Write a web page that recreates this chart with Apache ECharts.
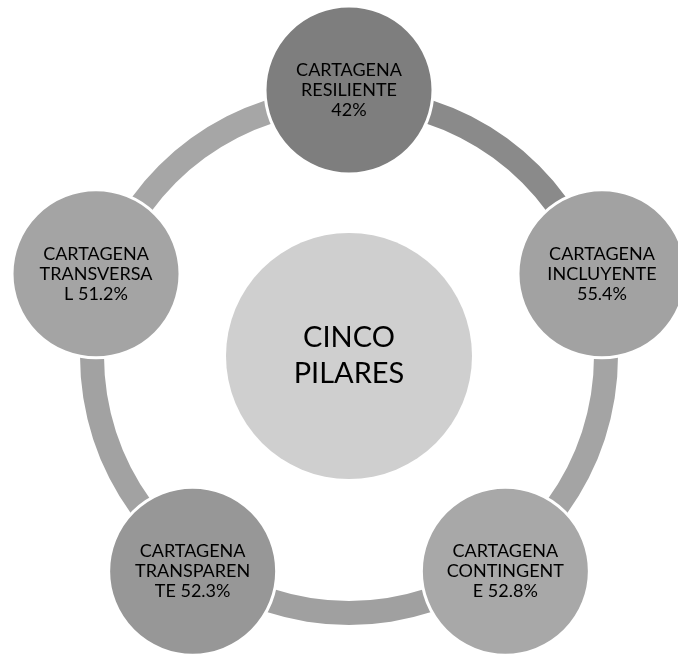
<!DOCTYPE html>
<html>
<head>
<meta charset="utf-8">
<script src="https://cdn.jsdelivr.net/npm/echarts@6/dist/echarts.min.js"></script>
<style>
html,body{margin:0;padding:0;background:#fff;}
#chart{width:678px;height:655px;}
</style>
</head>
<body>
<div id="chart"></div>
<script>
// ---- data ----
var prefix = 'CARTAGENA';
var categories = ['RESILIENTE', 'INCLUYENTE', 'CONTINGENTE', 'TRANSPARENTE', 'TRANSVERSAL'];
var values = [42, 55.4, 52.8, 52.3, 51.2];
var centerTitle = ['CINCO', 'PILARES'];
var circleColors = ['#7e7e7e', '#a2a2a2', '#a8a8a8', '#979797', '#a4a4a4'];
var ringColors = ['#8a8a8a', '#a4a4a4', '#a0a0a0', '#a2a2a2', '#a6a6a6'];

// ---- build ----
var n = categories.length;
function wrapLabel(word, v) {
  var l2 = word.slice(0, 10);
  var rest = word.slice(10);
  var l3 = (rest ? rest + ' ' : '') + v + '%';
  return prefix + '\n' + l2 + '\n' + l3;
}
var pillarData = categories.map(function (c, i) {
  return {
    name: c,
    value: [1, i * 360 / n],
    label: { formatter: wrapLabel(c, values[i]) },
    itemStyle: { color: circleColors[i] }
  };
});
var ringData = categories.map(function (c, i) {
  return { name: c, value: 1, itemStyle: { color: ringColors[i] } };
});

var chart = echarts.init(document.getElementById('chart'), null, { renderer: 'canvas' });
chart.setOption({
  backgroundColor: '#ffffff',
  animation: false,
  polar: { center: [349, 356], radius: 266 },
  angleAxis: { type: 'value', min: 0, max: 360, startAngle: 90, clockwise: true, show: false },
  radiusAxis: { type: 'value', min: 0, max: 1, show: false },
  series: [
    {
      type: 'pie',
      silent: true,
      z: 1,
      center: [349, 356],
      radius: [245, 269],
      startAngle: 90,
      clockwise: true,
      label: { show: false },
      labelLine: { show: false },
      itemStyle: { borderWidth: 0 },
      data: ringData
    },
    {
      type: 'scatter',
      coordinateSystem: 'polar',
      z: 3,
      silent: true,
      symbol: 'circle',
      symbolSize: 168,
      itemStyle: { borderColor: '#ffffff', borderWidth: 3, opacity: 1 },
      label: {
        show: true,
        position: 'inside',
        color: '#000000',
        fontFamily: 'Lato',
        fontSize: 18,
        lineHeight: 20,
        align: 'center'
      },
      data: pillarData
    },
    {
      type: 'scatter',
      coordinateSystem: 'polar',
      z: 3,
      silent: true,
      symbol: 'circle',
      symbolSize: 246,
      itemStyle: { color: '#cfcfcf', opacity: 1 },
      label: {
        show: true,
        position: 'inside',
        color: '#000000',
        fontFamily: 'Lato',
        fontSize: 29,
        lineHeight: 36,
        formatter: centerTitle.join('\n')
      },
      data: [{ name: centerTitle.join(' '), value: [0, 0] }]
    }
  ]
});
</script>
</body>
</html>
